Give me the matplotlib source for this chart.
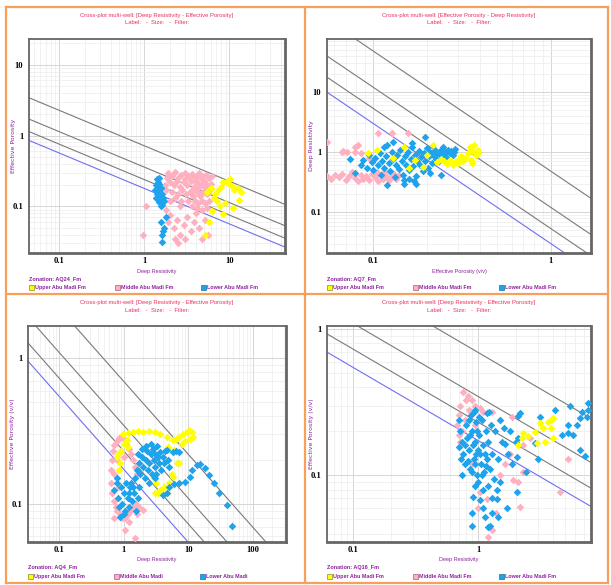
import numpy as np
import matplotlib
matplotlib.use('Agg')
import matplotlib.pyplot as plt
from matplotlib import font_manager
from matplotlib.patches import Rectangle
from matplotlib.lines import Line2D
from matplotlib.ticker import FixedLocator, FixedFormatter, LogLocator, NullFormatter

# AQ24 : (deep resistivity, effective porosity)
aq24_upper = [(8.5, 0.22), (9.3, 0.23), (10.2, 0.24), (9.8, 0.21), (11.0, 0.19), (11.4, 0.17),
              (12.5, 0.18), (13.8, 0.16), (12.8, 0.125), (8.0, 0.19), (7.4, 0.17), (6.8, 0.15),
              (6.6, 0.13), (7.2, 0.12), (7.7, 0.10), (8.4, 0.077), (8.9, 0.11), (11.0, 0.094),
              (5.8, 0.06), (6.3, 0.085), (5.1, 0.039), (5.5, 0.16), (6.0, 0.18)]
aq24_middle = [(1.9, 0.30), (2.1, 0.27), (2.3, 0.31), (2.5, 0.25), (2.7, 0.28), (3.0, 0.30), (3.3, 0.27),
               (3.6, 0.29), (4.0, 0.26), (4.4, 0.30), (4.8, 0.27), (5.3, 0.28), (5.8, 0.25), (6.3, 0.27),
               (2.0, 0.22), (2.2, 0.20), (2.4, 0.23), (2.6, 0.19), (2.9, 0.22), (3.2, 0.20), (3.5, 0.23),
               (3.8, 0.19), (4.2, 0.22), (4.6, 0.20), (5.0, 0.23), (5.5, 0.20), (6.0, 0.21),
               (1.8, 0.17), (2.1, 0.16), (2.5, 0.15), (2.8, 0.17), (3.1, 0.15), (3.4, 0.16), (3.7, 0.14),
               (4.1, 0.16), (4.5, 0.14), (4.9, 0.16), (5.4, 0.15), (5.9, 0.17),
               (2.3, 0.13), (2.7, 0.12), (3.3, 0.12), (3.9, 0.12), (4.3, 0.11), (4.7, 0.12), (5.2, 0.11),
               (5.7, 0.12), (2.0, 0.12), (3.6, 0.10), (4.2, 0.095), (4.8, 0.09), (5.5, 0.095), (2.6, 0.10),
               (3.4, 0.25), (3.9, 0.23), (4.3, 0.18), (3.6, 0.17), (4.6, 0.25), (5.1, 0.19), (3.0, 0.24),
               (1.8, 0.09), (2.0, 0.075), (1.9, 0.06), (2.2, 0.05), (2.4, 0.065), (2.6, 0.04), (2.5, 0.03),
               (2.9, 0.055), (3.2, 0.07), (3.5, 0.045), (3.8, 0.06), (4.0, 0.08), (4.4, 0.05), (4.7, 0.035),
               (5.2, 0.065), (5.6, 0.04), (3.0, 0.035), (2.3, 0.035), (1.05, 0.1), (0.97, 0.04), (1.7, 0.12),
               (1.75, 0.2), (1.85, 0.25)]
aq24_lower = [(1.40, 0.24), (1.45, 0.22), (1.38, 0.20), (1.50, 0.21), (1.42, 0.18), (1.35, 0.17),
              (1.48, 0.16), (1.55, 0.18), (1.40, 0.15), (1.52, 0.14), (1.60, 0.15), (1.45, 0.13),
              (1.58, 0.12), (1.65, 0.13), (1.50, 0.115), (1.62, 0.105), (1.55, 0.10), (1.70, 0.12),
              (1.36, 0.13), (1.43, 0.19), (1.47, 0.25), (1.80, 0.07), (1.70, 0.05), (1.65, 0.045),
              (1.63, 0.04), (1.60, 0.031), (1.58, 0.06)]

# AQ7 : (effective porosity, deep resistivity)
aq7_upper = [(0.35, 1.21), (0.38, 0.89), (0.30, 0.74), (0.26, 0.63), (0.23, 0.68), (0.36, 1.05),
             (0.37, 1.3), (0.34, 0.95), (0.33, 0.80), (0.32, 0.70), (0.29, 0.68), (0.28, 0.62),
             (0.31, 0.85), (0.355, 0.75), (0.39, 1.1), (0.27, 0.75), (0.25, 0.70), (0.24, 0.78),
             (0.218, 1.3), (0.19, 0.56), (0.172, 0.74), (0.093, 0.96), (0.13, 0.8), (0.15, 1.2),
             (0.105, 1.1), (0.2, 0.9), (0.16, 0.55), (0.36, 0.66), (0.30, 0.66), (0.39, 0.96)]
aq7_middle = [(0.055, 1.47), (0.067, 1.0), (0.071, 1.0), (0.079, 1.0), (0.082, 1.3), (0.085, 0.97),
              (0.079, 1.2), (0.068, 1.04), (0.107, 2.07), (0.127, 2.07), (0.157, 2.07), (0.095, 0.8),
              (0.10, 0.75), (0.055, 0.40), (0.058, 0.36), (0.061, 0.42), (0.064, 0.38), (0.067, 0.44),
              (0.070, 0.35), (0.073, 0.40), (0.076, 0.46), (0.079, 0.37), (0.082, 0.33), (0.085, 0.42),
              (0.088, 0.36), (0.091, 0.40), (0.095, 0.34), (0.098, 0.44), (0.102, 0.38), (0.106, 0.33),
              (0.110, 0.42), (0.114, 0.36), (0.118, 0.40), (0.122, 0.34), (0.127, 0.38), (0.131, 0.43),
              (0.135, 0.36), (0.105, 0.47), (0.115, 0.47), (0.125, 0.46), (0.14, 0.41)]
aq7_lower = [(0.074, 0.76), (0.079, 0.45), (0.085, 0.62), (0.088, 0.75), (0.092, 0.55), (0.095, 0.88),
             (0.098, 0.68), (0.100, 0.50), (0.103, 0.80), (0.106, 0.60), (0.109, 0.95), (0.110, 0.42),
             (0.112, 0.72), (0.115, 0.55), (0.118, 0.85), (0.120, 1.30), (0.120, 0.28), (0.122, 0.65),
             (0.125, 0.48), (0.127, 1.0), (0.130, 0.78), (0.132, 0.38), (0.134, 0.60), (0.137, 0.90),
             (0.140, 0.52), (0.142, 1.10), (0.145, 0.70), (0.148, 0.42), (0.150, 0.30), (0.151, 0.85),
             (0.154, 0.62), (0.157, 1.0), (0.160, 0.50), (0.163, 0.76), (0.166, 1.2), (0.168, 0.58),
             (0.171, 0.88), (0.174, 0.40), (0.176, 0.70), (0.180, 1.05), (0.183, 0.60), (0.186, 0.82),
             (0.190, 0.48), (0.193, 0.95), (0.196, 1.78), (0.196, 0.70), (0.200, 1.15), (0.204, 0.55),
             (0.207, 0.85), (0.210, 1.0), (0.214, 0.65), (0.218, 0.90), (0.222, 1.1), (0.226, 0.78),
             (0.230, 0.95), (0.234, 0.70), (0.238, 1.05), (0.242, 0.85), (0.246, 1.2), (0.250, 0.92),
             (0.255, 1.0), (0.260, 0.80), (0.265, 1.1), (0.270, 0.95), (0.275, 1.05), (0.280, 0.88),
             (0.285, 1.0), (0.29, 1.12), (0.21, 0.45), (0.24, 0.42), (0.15, 0.35), (0.17, 0.33),
             (0.13, 1.45), (0.165, 1.4), (0.115, 1.2), (0.175, 0.3), (0.16, 0.36)]

# AQ4 : (deep resistivity, effective porosity)
aq4_upper = [(0.96, 0.30), (1.15, 0.305), (1.38, 0.31), (1.65, 0.315), (2.0, 0.31), (2.45, 0.315),
             (3.0, 0.31), (3.7, 0.30), (4.6, 0.29), (5.7, 0.275), (6.5, 0.28), (7.3, 0.29), (8.3, 0.30),
             (9.4, 0.31), (10.3, 0.32), (11.2, 0.31), (11.7, 0.29), (10.5, 0.28), (9.0, 0.27), (8.0, 0.26),
             (1.11, 0.275), (1.15, 0.245), (0.87, 0.19), (0.78, 0.21), (0.81, 0.22), (0.92, 0.23),
             (1.0, 0.26), (0.85, 0.17), (2.8, 0.153), (3.6, 0.125), (4.6, 0.12), (5.1, 0.14),
             (5.7, 0.153), (7.3, 0.19), (4.8, 0.245), (6.1, 0.235), (3.0, 0.119), (3.4, 0.12),
             (6.6, 0.19), (5.5, 0.16), (4.2, 0.13), (3.2, 0.14)]
aq4_middle = [(0.65, 0.20), (0.63, 0.17), (0.64, 0.14), (0.66, 0.12), (0.70, 0.105), (0.75, 0.095),
              (0.80, 0.09), (0.88, 0.085), (0.95, 0.08), (1.05, 0.08), (1.15, 0.085), (1.25, 0.09),
              (1.4, 0.095), (1.55, 0.10), (1.7, 0.095), (1.97, 0.091), (0.68, 0.23), (0.72, 0.255),
              (0.78, 0.27), (0.85, 0.285), (0.92, 0.29), (1.0, 0.28), (1.1, 0.26), (1.2, 0.24),
              (1.3, 0.22), (1.4, 0.20), (1.5, 0.18), (1.6, 0.16), (0.9, 0.23), (1.0, 0.21), (0.8, 0.2),
              (0.72, 0.16), (0.85, 0.13), (1.03, 0.066), (1.48, 0.059), (1.2, 0.075), (1.6, 0.085),
              (0.7, 0.08)]
aq4_lower = [(1.5, 0.15), (1.6, 0.17), (1.7, 0.19), (1.8, 0.16), (1.9, 0.21), (2.0, 0.18), (2.1, 0.15),
             (2.2, 0.20), (2.3, 0.23), (2.4, 0.17), (2.5, 0.19), (2.6, 0.22), (2.7, 0.16), (2.8, 0.24),
             (2.9, 0.20), (3.0, 0.18), (3.1, 0.22), (3.2, 0.16), (3.3, 0.25), (3.4, 0.21), (3.5, 0.19),
             (3.6, 0.227), (3.8, 0.17), (4.0, 0.21), (4.2, 0.19), (4.4, 0.23), (4.6, 0.235), (4.8, 0.20),
             (5.0, 0.18), (5.7, 0.227), (6.5, 0.23), (7.3, 0.227), (2.2, 0.25), (2.6, 0.26), (1.4, 0.13),
             (1.3, 0.14), (1.2, 0.12), (2.5, 0.14), (3.0, 0.15), (1.9, 0.24), (1.65, 0.22),
             (4.0, 0.115), (4.6, 0.12), (5.1, 0.13), (6.1, 0.137), (7.3, 0.14), (8.8, 0.142),
             (10.5, 0.153), (11.6, 0.17), (13.4, 0.185), (15, 0.188), (18, 0.177), (21, 0.158),
             (25, 0.14), (30, 0.12), (39, 0.099), (47, 0.071),
             (0.72, 0.125), (0.78, 0.14), (0.82, 0.11), (0.87, 0.082), (0.90, 0.13), (0.95, 0.10),
             (1.0, 0.12), (1.05, 0.09), (1.1, 0.14), (1.15, 0.11), (1.2, 0.095), (1.25, 0.13),
             (1.35, 0.105), (1.45, 0.12), (1.55, 0.09), (1.65, 0.11), (1.75, 0.13), (0.85, 0.095),
             (1.0, 0.085), (0.8, 0.15)]

# AQ16 : (deep resistivity, effective porosity)
aq16_upper = [(2.3, 0.194), (2.5, 0.185), (2.85, 0.197), (3.3, 0.21), (3.8, 0.24), (4.0, 0.245),
              (3.8, 0.21), (4.0, 0.18), (3.4, 0.17), (2.95, 0.166), (2.1, 0.16), (2.25, 0.18),
              (3.1, 0.227), (3.6, 0.23)]
aq16_middle = [(0.76, 0.37), (0.83, 0.35), (0.80, 0.33), (0.72, 0.30), (0.70, 0.26), (0.68, 0.22),
               (0.70, 0.19), (0.72, 0.17), (0.95, 0.30), (1.04, 0.29), (1.3, 0.27), (1.87, 0.25),
               (5.2, 0.13), (4.5, 0.077), (2.16, 0.061), (2.1, 0.09), (1.9, 0.093), (2.3, 0.105),
               (1.65, 0.12), (1.2, 0.038), (1.3, 0.042), (1.18, 0.069), (1.04, 0.077), (2.3, 0.16),
               (0.9, 0.33), (0.85, 0.28), (1.1, 0.27), (1.5, 0.24), (0.78, 0.24), (0.75, 0.2),
               (0.95, 0.22), (1.0, 0.06), (1.4, 0.055), (1.5, 0.1), (1.8, 0.14), (2.6, 0.18), (0.9, 0.12)]
aq16_lower = [(0.70, 0.24), (0.72, 0.20), (0.74, 0.17), (0.76, 0.14), (0.78, 0.12), (0.80, 0.22),
              (0.82, 0.18), (0.84, 0.15), (0.86, 0.11), (0.88, 0.26), (0.90, 0.20), (0.92, 0.13),
              (0.94, 0.17), (0.96, 0.23), (0.98, 0.10), (1.00, 0.15), (1.02, 0.19), (1.05, 0.12),
              (1.08, 0.24), (1.10, 0.16), (1.12, 0.105), (1.15, 0.20), (1.18, 0.13), (1.20, 0.17),
              (1.25, 0.11), (1.28, 0.22), (1.30, 0.14), (0.73, 0.13), (0.75, 0.10), (0.79, 0.16),
              (0.83, 0.125), (0.87, 0.19), (0.91, 0.16), (0.95, 0.12), (0.99, 0.20), (1.03, 0.14),
              (1.07, 0.10), (1.13, 0.14), (1.16, 0.115), (0.71, 0.155), (0.85, 0.24), (0.93, 0.27),
              (1.01, 0.25), (0.89, 0.105), (0.97, 0.14), (1.18, 0.266), (1.22, 0.27), (0.95, 0.28),
              (0.91, 0.071), (1.03, 0.068), (1.42, 0.079), (1.42, 0.069), (0.9, 0.055), (0.9, 0.045),
              (1.14, 0.052), (1.3, 0.055), (1.45, 0.052), (1.25, 0.045), (1.7, 0.06), (1.1, 0.06),
              (1.2, 0.044), (2.05, 0.077), (1.0, 0.09), (1.2, 0.085), (1.35, 0.095), (1.1, 0.08),
              (0.95, 0.085), (1.5, 0.09), (1.3, 0.07),
              (2.17, 0.266), (4.1, 0.28), (5.4, 0.30), (7.6, 0.31), (7.6, 0.28), (6.5, 0.246),
              (6.2, 0.22), (5.7, 0.19), (5.2, 0.195), (6.5, 0.15), (3.0, 0.13), (2.85, 0.166),
              (2.1, 0.18), (1.8, 0.2), (1.6, 0.21), (1.37, 0.2), (1.55, 0.17), (2.05, 0.133),
              (2.4, 0.105), (7.1, 0.135), (5.2, 0.22), (4.7, 0.19), (3.1, 0.25), (2.1, 0.254),
              (1.65, 0.163), (2.0, 0.17), (1.73, 0.141), (1.87, 0.12), (1.45, 0.13), (1.5, 0.24),
              (6.8, 0.27), (7.4, 0.25)]

# Pickett lines: Archie with m = n = 2
sw_lines = [1.0, 0.75, 0.5, 0.25]
rw_values = [0.032, 0.030, 0.030, 0.030]

zonations = ['AQ24_Fm', 'AQ7_Fm', 'AQ4_Fm', 'AQ16_Fm']
legend_sets = [['Upper Abu Madi Fm', 'Middle Abu Madi Fm', 'Lower Abu Madi Fm'],
               ['Upper Abu Madi Fm', 'Middle Abu Madi Fm', 'Lower Abu Madi Fm'],
               ['Upper Abu Madi Fm', 'Middle Abu Madi', 'Lower Abu Madi'],
               ['Upper Abu Madi Fm', 'Middle Abu Madi Fm', 'Lower Abu Madi Fm']]
titles = ['Cross-plot multi-well: [Deep Resistivity - Effective Porosity]',
          'Cross-plot multi-well: [Effective Porosity - Deep Resistivity]',
          'Cross-plot multi-well: [Deep Resistivity - Effective Porosity]',
          'Cross-plot multi-well: [Deep Resistivity - Effective Porosity]']
xlabels = ['Deep Resistivity', 'Effective Porosity (v/v)', 'Deep Resistivity', 'Deep Resistivity']
ylabels = ['Effective Porosity', 'Deep Resistivity', 'Effective Porosity (v/v)', 'Effective Porosity (v/v)']
xlims = [(0.044, 45), (0.055, 1.68), (0.033, 325), (0.062, 8.0)]
ylims = [(0.022, 23), (0.021, 76), (0.055, 1.66), (0.035, 1.05)]
xticks = [[0.1, 1, 10], [0.1, 1], [0.1, 1, 10, 100], [0.1, 1]]
yticks = [[0.1, 1, 10], [0.1, 1, 10], [0.1, 1], [0.1, 1]]
swapped = [False, True, False, False]
panel_data = [(aq24_upper, aq24_middle, aq24_lower), (aq7_upper, aq7_middle, aq7_lower),
              (aq4_upper, aq4_middle, aq4_lower), (aq16_upper, aq16_middle, aq16_lower)]

# axes boxes in pixels: left, top, right, bottom
boxes = [(29, 39, 285, 253), (327, 39, 591, 253), (28, 326, 286, 542), (327, 326, 591, 542)]

C_UPPER, C_MIDDLE, C_LOWER = '#FFFF00', '#FFB0C0', '#1EA3EC'
C_TITLE, C_PURPLE = '#E8305E', '#8E1FA0'

# a narrow sans face if there is one, else plain Liberation Sans a bit smaller
try:
    font_manager.findfont('Liberation Sans Narrow', fallback_to_default=False)
    SANS, SCALE = 'Liberation Sans Narrow', 1.2
except ValueError:
    SANS, SCALE = 'Liberation Sans', 1.0

W, H = 611, 585
fig = plt.figure(figsize=(W / 100, H / 100), dpi=100)
plt.rcParams['font.family'] = [SANS, 'DejaVu Sans']


def fx(px):
    return px / W


def fy(py):
    return 1 - py / H


def tick_text(v):
    return '0.1' if v < 1 else str(int(v))


for i in range(4):
    l, t, r, b = boxes[i]
    ax = fig.add_axes([fx(l), fy(b), fx(r) - fx(l), fy(t) - fy(b)])
    ax.set_xscale('log')
    ax.set_yscale('log')
    ax.set_xlim(*xlims[i])
    ax.set_ylim(*ylims[i])

    # Pickett reference lines
    rr = np.logspace(-4, 4, 20)
    for sw in sw_lines:
        phi = np.sqrt(rw_values[i] / rr) / sw
        col = '#6f6ff2' if sw == 1.0 else '#7a7a7a'
        if swapped[i]:
            ax.plot(phi, rr, color=col, lw=0.8, zorder=2)
        else:
            ax.plot(rr, phi, color=col, lw=0.8, zorder=2)

    up, mid, low = [np.array(d).T for d in panel_data[i]]
    kw = dict(marker='D', s=15, linewidths=0, zorder=3)
    ax.scatter(mid[0], mid[1], color=C_MIDDLE, **kw)
    if i == 2:
        ax.scatter(up[0], up[1], color=C_UPPER, **kw)
        ax.scatter(low[0], low[1], color=C_LOWER, **kw)
    else:
        ax.scatter(low[0], low[1], color=C_LOWER, **kw)
        ax.scatter(up[0], up[1], color=C_UPPER, **kw)

    ax.xaxis.set_major_locator(FixedLocator(xticks[i]))
    ax.yaxis.set_major_locator(FixedLocator(yticks[i]))
    ax.xaxis.set_major_formatter(FixedFormatter([tick_text(v) for v in xticks[i]]))
    ax.yaxis.set_major_formatter(FixedFormatter([tick_text(v) for v in yticks[i]]))
    ax.xaxis.set_minor_locator(LogLocator(base=10, subs=np.arange(2, 10)))
    ax.yaxis.set_minor_locator(LogLocator(base=10, subs=np.arange(2, 10)))
    ax.xaxis.set_minor_formatter(NullFormatter())
    ax.yaxis.set_minor_formatter(NullFormatter())
    ax.tick_params(which='both', length=0)
    ax.tick_params(axis='x', pad=3)
    ax.tick_params(axis='y', pad=4)
    for lab in ax.get_xticklabels() + ax.get_yticklabels():
        lab.set_fontfamily('Liberation Serif')
        lab.set_fontweight('bold')
        lab.set_fontsize(6.2)
    ax.grid(which='major', color='#d6d6d6', lw=0.7, zorder=0)
    ax.grid(which='minor', color='#ececec', lw=0.5, zorder=0)
    ax.set_axisbelow(True)
    for side, sp in ax.spines.items():
        sp.set_color('#666666')
        sp.set_linewidth(2.0 if side in ('right', 'bottom') else 1.3)

    cx = (l + r) / 2
    fig.text(fx(cx), fy(t - 24), titles[i], color=C_TITLE, fontsize=4.25 * SCALE,
             ha='center', va='center')
    fig.text(fx(cx), fy(t - 16), 'Label:   -  Size:   -  Filter:', color=C_TITLE,
             fontsize=4.25 * SCALE, ha='center', va='center')
    fig.text(fx(cx), fy(b + 18), xlabels[i], color=C_PURPLE, fontsize=4.0 * SCALE,
             ha='center', va='center')
    fig.text(fx(l - 15), fy((t + b) / 2), ylabels[i], color=C_PURPLE, fontsize=4.5,
             family='DejaVu Sans', rotation=90, ha='center', va='center')
    fig.text(fx(l), fy(b + 26), 'Zonation: ' + zonations[i], color=C_PURPLE,
             fontsize=4.0 * SCALE, fontweight='bold', ha='left', va='center')
    edges = ['#8a8a30', '#a06080', '#2070a0']
    for k, (lab, col) in enumerate(zip(legend_sets[i], [C_UPPER, C_MIDDLE, C_LOWER])):
        x0 = l + k * 86
        fig.add_artist(Rectangle((fx(x0), fy(b + 37)), fx(5), 5 / H, transform=fig.transFigure,
                                 facecolor=col, edgecolor=edges[k], lw=0.5))
        fig.text(fx(x0 + 6), fy(b + 34.5), lab, color=C_PURPLE, fontsize=3.9 * SCALE,
                 fontweight='bold', ha='left', va='center')

# orange panel frames
orange = '#F7A05C'
for (x1, y1, x2, y2) in [(6, 7, 608, 7), (6, 583, 608, 583), (6, 7, 6, 583), (608, 7, 608, 583),
                         (305, 7, 305, 583), (6, 294, 608, 294)]:
    fig.add_artist(Line2D([fx(x1), fx(x2)], [fy(y1), fy(y2)], color=orange, lw=1.6,
                          transform=fig.transFigure))

fig.savefig('out.png', dpi=100, facecolor='white')
